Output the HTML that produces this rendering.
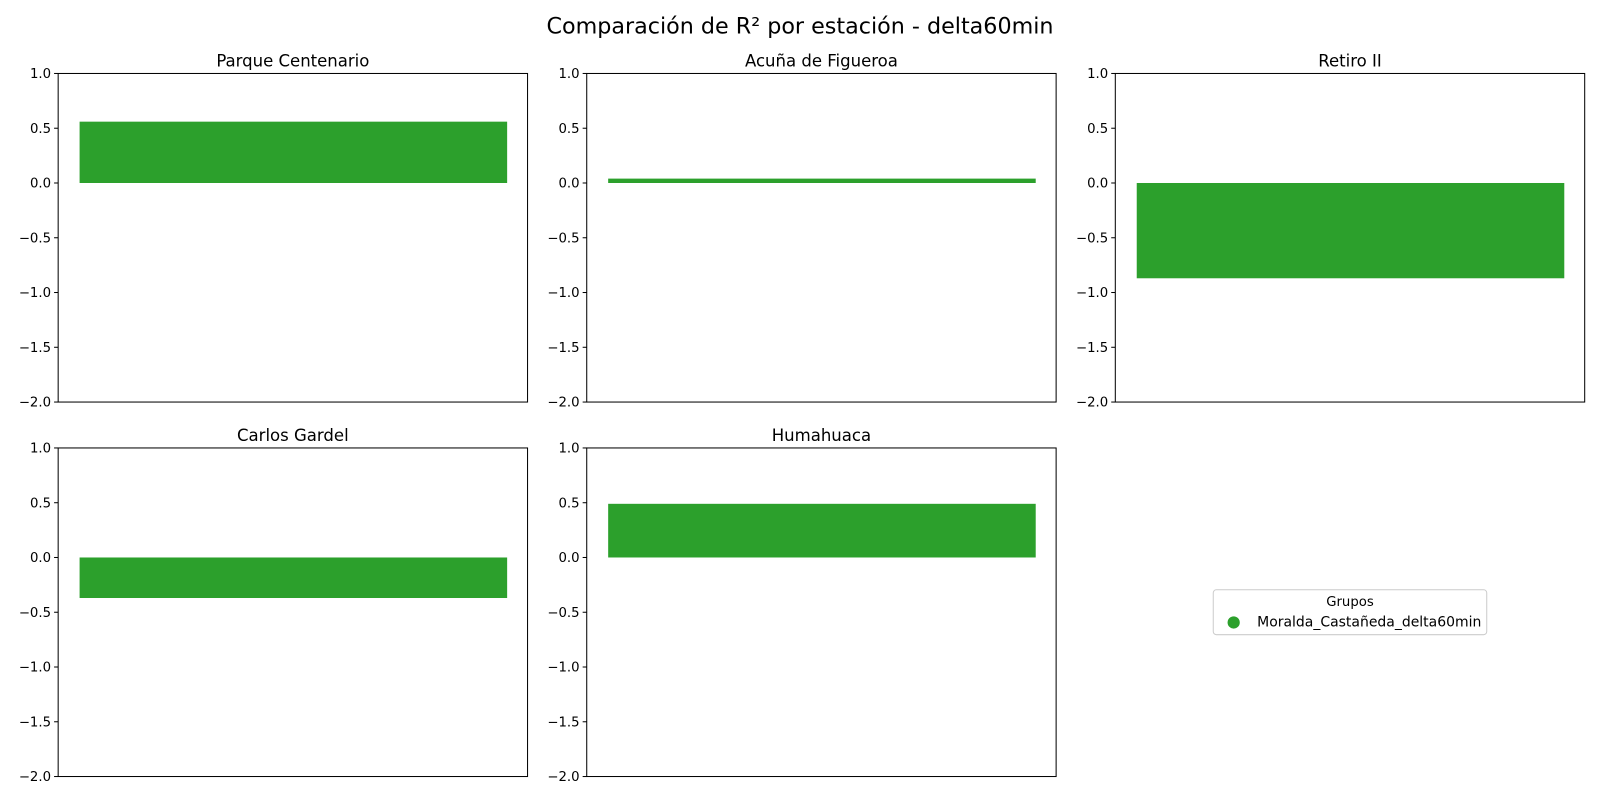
<!DOCTYPE html>
<html><head><meta charset="utf-8"><style>
body{margin:0;background:#fff;}
svg{display:block;}
svg text{font-family:"DejaVu Sans","Liberation Sans",sans-serif;}
</style></head><body>
<svg id="chart" width="1600" height="800" viewBox="0 0 1568 784" xmlns="http://www.w3.org/2000/svg">
<rect width="1568" height="784" fill="#fff"/>
<text x="784" y="33" font-size="21.8" text-anchor="middle">Comparación de R² por estación - delta60min</text>
<g id="panels"></g>
<g>
<rect x="1189" y="578" width="268" height="44" rx="3" fill="#fff" stroke="#ccc"/>
<text x="1323" y="594" font-size="13" text-anchor="middle">Grupos</text>
<circle cx="1209" cy="610" r="6" fill="#2ca02c"/>
<text x="1232" y="614" font-size="13.7">Moralda_Castañeda_delta60min</text>
</g>
</svg>
<script>
const stations = ["Parque Centenario","Acuña de Figueroa","Retiro II","Carlos Gardel","Humahuaca"];
const r2Values = [0.56, 0.04, -0.87, -0.37, 0.49];
const yTicks = [1.0, 0.5, 0.0, -0.5, -1.0, -1.5, -2.0];
const yMin = -2, yMax = 1;
const NS = "http://www.w3.org/2000/svg";
const g = document.getElementById('panels');
const colX = [57, 575, 1093], rowY = [72, 439], W = 460, H = 322;
function mk(tag, attrs, parent){const e=document.createElementNS(NS,tag);for(const k in attrs)e.setAttribute(k,attrs[k]);parent.appendChild(e);return e;}
stations.forEach((name,i)=>{
  const x0 = colX[i%3], y0 = rowY[Math.floor(i/3)];
  const yS = v => y0 + (yMax - v) / (yMax - yMin) * H;
  const p = mk('g',{},g);
  
  
  const v = r2Values[i];
  const bar = mk('rect',{x:x0+21,width:W-41,y:Math.min(yS(v),yS(0)),height:Math.abs(yS(v)-yS(0)),fill:'#2ca02c'},p);
  
  
  const frame = mk('rect',{x:x0,y:y0,width:W,height:H,fill:'none',stroke:'#000','stroke-width':1},p);
  
  
  const t = mk('text',{x:x0+W/2,y:y0-7,'font-size':16.2,'text-anchor':'middle'},p);
  t.textContent = name;
  
  
  yTicks.forEach(tv=>{
    const yy = yS(tv);
    const tk = mk('line',{x1:x0-4,x2:x0,y1:yy,y2:yy,stroke:'#000'},p);
    
    
    const lb = mk('text',{x:x0-7,y:yy+4.5,'font-size':13,'text-anchor':'end'},p);
    lb.textContent = tv.toFixed(1).replace('-','\u2212');
    
    
  });
});
</script>
</body></html>
